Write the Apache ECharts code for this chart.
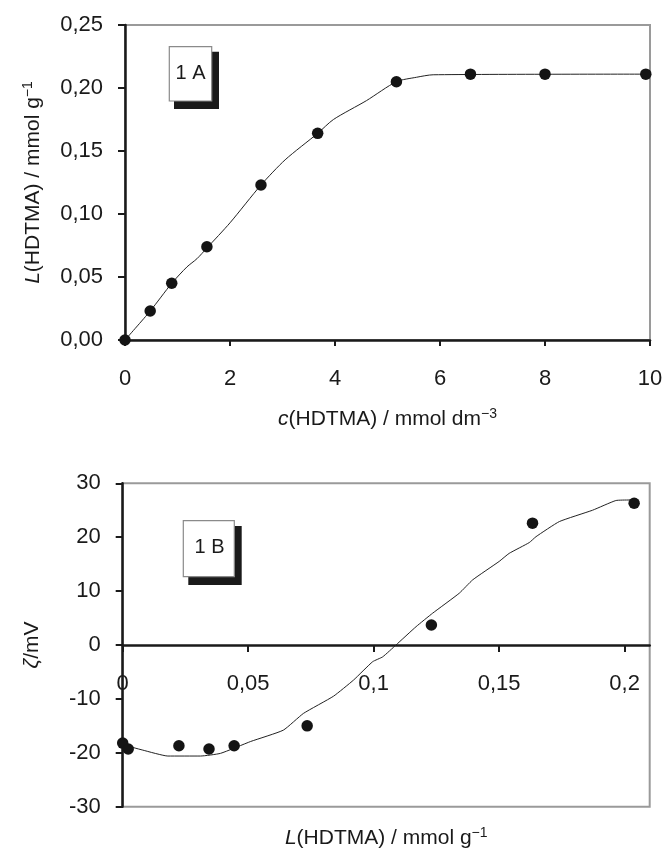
<!DOCTYPE html>
<html>
<head>
<meta charset="utf-8">
<script src="https://cdn.jsdelivr.net/npm/echarts@6/dist/echarts.min.js"></script>
<style>
  html, body { margin: 0; padding: 0; background: #fff; }
  #chart { width: 666px; height: 859px; }
</style>
</head>
<body>
<div id="chart"></div>
<script>
// Panel 1A: HDTMA loading vs. equilibrium concentration
const concTicks = [0, 2, 4, 6, 8, 10];
const adsConc = [0, 0.48, 0.89, 1.56, 2.59, 3.67, 5.17, 6.58, 8.0, 9.92];
const adsLoad = [0, 0.023, 0.045, 0.074, 0.123, 0.164, 0.205, 0.211, 0.211, 0.211];
const fitConc = [0, 0.48, 0.89, 1.18, 1.37, 1.56, 2.0, 2.59, 3.05, 3.67, 3.97, 4.6, 5.17, 5.55, 5.87, 10];
const fitLoad = [0, 0.023, 0.045, 0.058, 0.0645, 0.073, 0.093, 0.123, 0.143, 0.164, 0.175, 0.19, 0.205, 0.2085, 0.2105, 0.211];

// Panel 1B: zeta potential vs. HDTMA loading
const loadTicks = [0, 0.05, 0.1, 0.15, 0.2];
const zetaLoad = [0, 0.0022, 0.0224, 0.0344, 0.0444, 0.0735, 0.123, 0.1633, 0.2038];
const zetaVal = [-18.2, -19.3, -18.7, -19.3, -18.7, -15.0, 3.7, 22.6, 26.3];
const zetaFitLoad = [0, 0.008, 0.018, 0.031, 0.039, 0.051, 0.064, 0.072, 0.084, 0.092, 0.0996, 0.1036, 0.1089, 0.1169, 0.1235, 0.1341, 0.1395, 0.150, 0.154, 0.162, 0.1647, 0.174, 0.1872, 0.1965, 0.2018, 0.2038];
const zetaFitVal = [-18.5, -19.5, -20.6, -20.6, -20.1, -17.9, -15.8, -12.7, -9.5, -6.5, -3.1, -2.2, 0, 3.4, 5.9, 9.6, 12.1, 15.5, 17.0, 19.0, 20.1, 22.9, 25.0, 26.8, 26.9, 26.9];

const FONT = "'Liberation Sans', Arial, Helvetica, sans-serif";
const pairs = (xs, ys) => xs.map((x, i) => [x, ys[i]]);
const comma = s => String(s).replace('.', ',');

const nameRich = {
  i: { fontStyle: 'italic', fontSize: 21, fontFamily: FONT, color: '#1a1a1a' },
  s: { fontSize: 14, fontFamily: FONT, color: '#1a1a1a', verticalAlign: 'bottom', padding: [0, 0, 11, 0] }
};
const nameStyle = { fontSize: 21, fontFamily: FONT, color: '#1a1a1a', rich: nameRich };
const labelStyle = { fontSize: 22, fontFamily: FONT, color: '#1a1a1a' };
const axisLineStyle = { color: '#1a1a1a', width: 2.5 };
const tickStyle = { color: '#1a1a1a', width: 2 };
const gridBase = { show: true, borderColor: '#9a9a9a', borderWidth: 2, backgroundColor: 'transparent', outerBoundsMode: 'none' };

// lower panel geometry: the load axis runs along zeta = 0, half-way up the plot
const zGridTop = 483.3, zGridHeight = 323.4;

const chart = echarts.init(document.getElementById('chart'), null, { renderer: 'canvas' });

chart.setOption({
  backgroundColor: '#fff',
  animation: false,
  grid: [
    Object.assign({ left: 125, top: 25, width: 525, height: 315 }, gridBase),
    Object.assign({ left: 122.7, top: zGridTop, width: 527, height: zGridHeight }, gridBase)
  ],
  xAxis: [
    {
      gridIndex: 0, type: 'value', min: 0, max: 10, interval: 2,
      splitLine: { show: false },
      axisLine: { lineStyle: axisLineStyle },
      axisTick: { length: 6, lineStyle: tickStyle, customValues: concTicks },
      axisLabel: Object.assign({ margin: 28, customValues: concTicks }, labelStyle),
      name: '{i|c}(HDTMA) / mmol dm{s|−3}',
      nameLocation: 'middle', nameGap: 67, nameMoveOverlap: false, nameTextStyle: nameStyle
    },
    {
      gridIndex: 1, type: 'value', min: 0, max: 0.21,
      position: 'bottom', offset: -zGridHeight / 2,
      splitLine: { show: false },
      axisLine: { onZero: false, lineStyle: axisLineStyle },
      axisTick: { length: 7, lineStyle: tickStyle, customValues: loadTicks },
      axisLabel: Object.assign({
        margin: 28, customValues: loadTicks,
        formatter: v => loadTicks.some(t => Math.abs(t - v) < 1e-9) ? comma(v) : ''
      }, labelStyle),
      name: '{i|L}(HDTMA) / mmol g{s|−1}',
      nameLocation: 'middle', nameGap: zGridHeight / 2 + 19, nameMoveOverlap: false, nameTextStyle: nameStyle
    }
  ],
  yAxis: [
    {
      gridIndex: 0, type: 'value', min: 0, max: 0.25, interval: 0.05,
      splitLine: { show: false },
      axisLine: { lineStyle: axisLineStyle },
      axisTick: { length: 7, lineStyle: tickStyle },
      axisLabel: Object.assign({ margin: 22, formatter: v => comma(v.toFixed(2)) }, labelStyle),
      name: '{i|L}(HDTMA) / mmol g{s|−1}',
      nameLocation: 'middle', nameRotate: 90, nameGap: 79, nameMoveOverlap: false, nameTextStyle: nameStyle
    },
    {
      gridIndex: 1, type: 'value', min: -30, max: 30, interval: 10,
      splitLine: { show: false },
      axisLine: { onZero: false, lineStyle: axisLineStyle },
      axisTick: { length: 7, lineStyle: tickStyle },
      axisLabel: Object.assign({ margin: 22 }, labelStyle),
      name: '{i|ζ}/mV',
      nameLocation: 'middle', nameRotate: 90, nameGap: 80, nameMoveOverlap: false, nameTextStyle: nameStyle
    }
  ],
  series: [
    {
      type: 'line', xAxisIndex: 0, yAxisIndex: 0,
      data: pairs(fitConc, fitLoad), showSymbol: false, smooth: 0.25,
      lineStyle: { color: '#222', width: 1 }, z: 2, silent: true
    },
    {
      type: 'scatter', xAxisIndex: 0, yAxisIndex: 0,
      data: pairs(adsConc, adsLoad), symbol: 'circle', symbolSize: 11.5,
      itemStyle: { color: '#141414', opacity: 1 }, clip: false, z: 3
    },
    {
      type: 'line', xAxisIndex: 1, yAxisIndex: 1,
      data: pairs(zetaFitLoad, zetaFitVal), showSymbol: false, smooth: 0.15,
      lineStyle: { color: '#222', width: 1 }, z: 2, silent: true
    },
    {
      type: 'scatter', xAxisIndex: 1, yAxisIndex: 1,
      data: pairs(zetaLoad, zetaVal), symbol: 'circle', symbolSize: 11.5,
      itemStyle: { color: '#141414', opacity: 1 }, clip: false, z: 3
    }
  ],
  graphic: [
    // panel tag "1 A" with drop shadow
    { type: 'rect', shape: { x: 174, y: 51.7, width: 45, height: 57.3 }, style: { fill: '#1a1a1a' }, z: 10 },
    { type: 'rect', shape: { x: 169.3, y: 46.7, width: 42.4, height: 54.3 }, style: { fill: '#fff', stroke: '#8a8a8a', lineWidth: 1.2 }, z: 11 },
    { type: 'text', x: 190.5, y: 73.5, style: { text: '1 A', font: '20px ' + FONT, fill: '#1a1a1a', align: 'center', verticalAlign: 'middle' }, z: 12 },
    // panel tag "1 B" with drop shadow
    { type: 'rect', shape: { x: 188.3, y: 526, width: 53.4, height: 59 }, style: { fill: '#1a1a1a' }, z: 10 },
    { type: 'rect', shape: { x: 183.3, y: 520.7, width: 51, height: 56 }, style: { fill: '#fff', stroke: '#8a8a8a', lineWidth: 1.2 }, z: 11 },
    { type: 'text', x: 209.5, y: 547, style: { text: '1 B', font: '20px ' + FONT, fill: '#1a1a1a', align: 'center', verticalAlign: 'middle' }, z: 12 }
  ]
});
</script>
</body>
</html>
